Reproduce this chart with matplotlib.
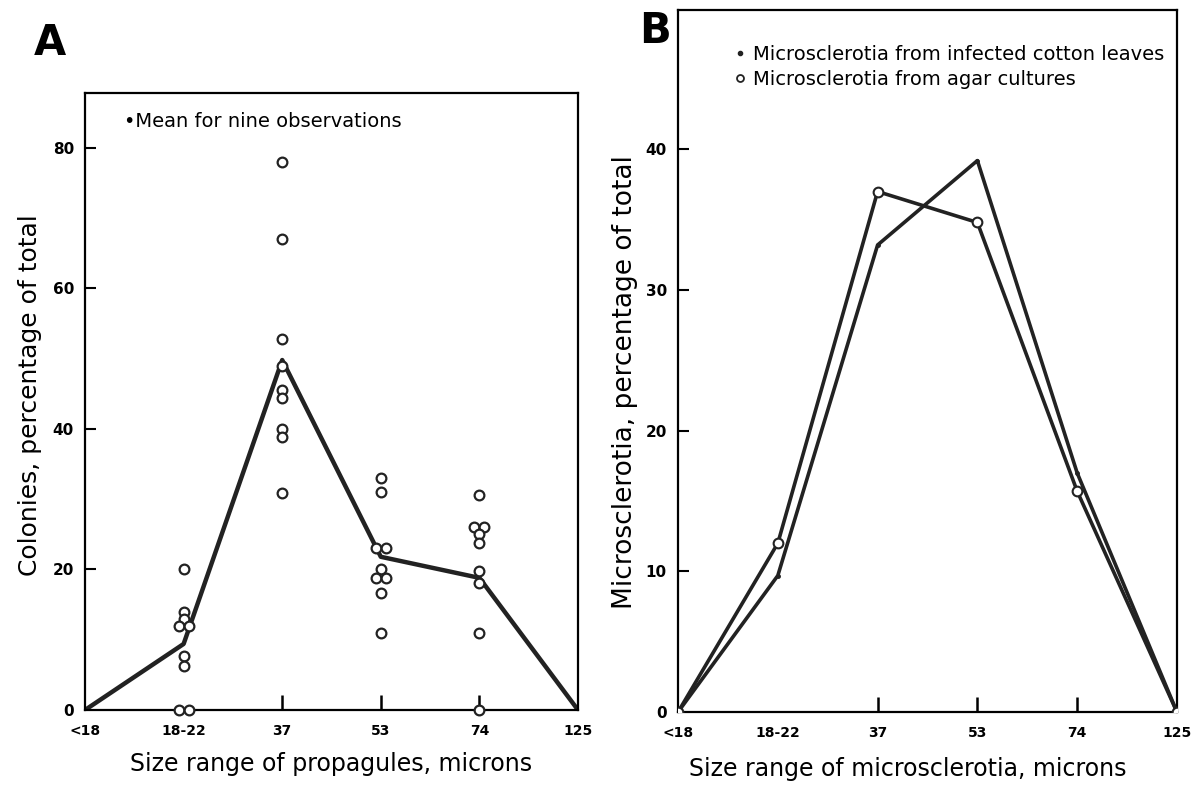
import matplotlib
matplotlib.use("Agg")
import matplotlib.pyplot as plt
from matplotlib.lines import Line2D
import numpy as np

# categories on the x axis (both panels)
size_classes = ["<18", "18-22", "37", "53", "74", "125"]

# panel A: mean line and the nine observations per class
mean_a = [0, 9.4, 49.8, 21.8, 18.8, 0]
obs_18_22 = [20, 14, 13, 12, 12, 7.7, 6.2, 0, 0]
obs_37 = [78, 67, 52.8, 48.9, 45.5, 44.4, 40, 38.8, 30.9]
obs_53 = [33, 31, 23, 23, 20, 18.8, 18.8, 16.7, 11]
obs_74 = [30.6, 26, 26, 25, 23.8, 19.8, 18, 11, 0]
observations = {1: obs_18_22, 2: obs_37, 3: obs_53, 4: obs_74}

# panel B
cotton_leaves = [0, 9.7, 33.2, 39.2, 17.0, 0]
agar_cultures = [0, 12.0, 37.0, 34.8, 15.7, 0]

fig = plt.figure(figsize=(11.91, 7.86), dpi=100)
axA = fig.add_axes([0.0714, 0.0967, 0.4139, 0.785])
axB = fig.add_axes([0.5693, 0.0941, 0.4189, 0.8931])

x = np.arange(len(size_classes))


def style_axes(ax, ylim, yticks, xlabel, ylabel, ylabel_size):
    ax.set_xlim(0, len(size_classes) - 1)
    ax.set_ylim(*ylim)
    ax.set_yticks(yticks)
    ax.set_yticklabels([str(t) for t in yticks], fontsize=11, fontweight="bold")
    ax.set_xticks(x)
    ax.set_xticklabels(size_classes, fontsize=10, fontweight="bold")
    ax.tick_params(axis="y", direction="in", length=8, width=1.5, pad=8)
    ax.tick_params(axis="x", direction="in", length=11, width=1.8, pad=10)
    # no tick marks at the ends or at the first interior class
    ticks = ax.xaxis.get_major_ticks()
    for k in (0, 1, len(ticks) - 1):
        ticks[k].tick1line.set_visible(False)
    ax.yaxis.get_major_ticks()[0].tick1line.set_visible(False)
    for s in ax.spines.values():
        s.set_linewidth(1.6)
    ax.set_xlabel(xlabel, fontsize=17)
    ax.set_ylabel(ylabel, fontsize=ylabel_size)


# ---- panel A ----
axA.plot(x, mean_a, color="#222222", lw=3.2, zorder=2, solid_capstyle="butt")
for i, vals in observations.items():
    vals = np.array(vals)
    xs = np.full(len(vals), float(i))
    # spread repeated values side by side
    for v in np.unique(vals):
        idx = np.where(vals == v)[0]
        if len(idx) > 1:
            xs[idx] = i + np.linspace(-0.05, 0.05, len(idx))
    axA.plot(xs, vals, "o", ms=7, mfc="white", mec="#222222", mew=1.6,
             ls="none", zorder=3, clip_on=False)
style_axes(axA, (0, 87.8), [0, 20, 40, 60, 80],
           "Size range of propagules, microns", "Colonies, percentage of total", 18)
axA.xaxis.set_label_coords(0.5, -0.068)
axA.yaxis.set_label_coords(-0.087, 0.51)
axA.text(0.08, 0.953, "\u2022Mean for nine observations", transform=axA.transAxes,
         fontsize=14, va="center", ha="left")

# ---- panel B ----
axB.plot(x, cotton_leaves, color="#222222", lw=2.6, marker=".", ms=5, zorder=2)
axB.plot(x, agar_cultures, color="#222222", lw=2.6, marker="o", ms=7,
         mfc="white", mec="#222222", mew=1.5, zorder=3)
style_axes(axB, (0, 49.9), [0, 10, 20, 30, 40],
           "Size range of microsclerotia, microns", "Microsclerotia, percentage of total", 19)
axB.xaxis.set_label_coords(0.46, -0.064)
axB.yaxis.set_label_coords(-0.08, 0.47)
handles = [Line2D([], [], ls="none", marker=".", ms=6, color="#222222"),
           Line2D([], [], ls="none", marker="o", ms=5, mfc="white", mec="#222222", mew=1.3)]
axB.legend(handles, ["Microsclerotia from infected cotton leaves",
                     "Microsclerotia from agar cultures"],
           loc="upper left", bbox_to_anchor=(0.085, 0.97), frameon=False,
           fontsize=14, handlelength=0.6, handletextpad=0.4, labelspacing=0.3,
           borderpad=0.2)

# panel letters
fig.text(0.028, 0.93, "A", fontsize=30, fontweight="heavy", family="DejaVu Sans")
fig.text(0.537, 0.945, "B", fontsize=30, fontweight="heavy", family="DejaVu Sans")

fig.savefig("out.png", dpi=100)
